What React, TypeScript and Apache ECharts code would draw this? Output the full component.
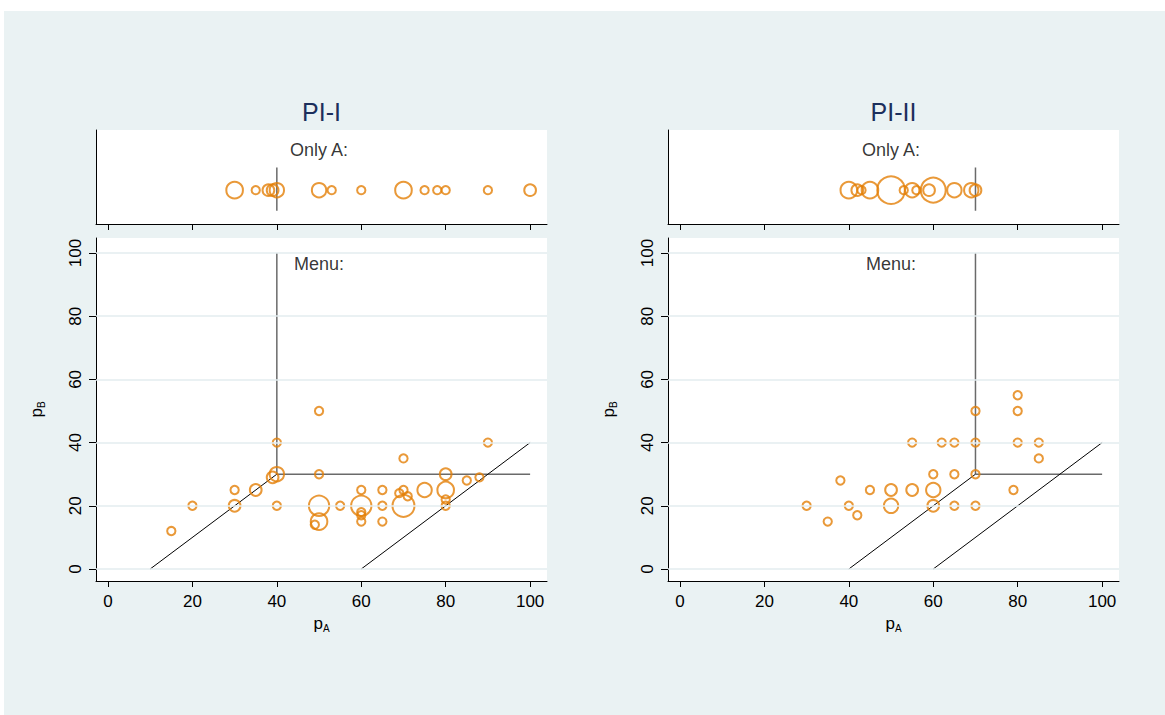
import React, { useEffect, useRef } from "react";
import * as echarts from "echarts";

// ---------- data ----------
const X_TICKS = [0, 20, 40, 60, 80, 100];
const Y_TICKS = [0, 20, 40, 60, 80, 100];
const PANEL_TITLES = ["PI-I", "PI-II"];
const STRIP_LABEL = "Only A:";
const MENU_LABEL = "Menu:";

// [pA, pB, count]
const pi1Menu = [
  [15, 12, 1], [20, 20, 1], [30, 25, 1], [30, 20, 2], [35, 25, 2], [39, 29, 2], [40, 30, 3],
  [40, 40, 1], [40, 20, 1], [50, 50, 1], [50, 30, 1], [50, 20, 6], [50, 15, 4], [49, 14, 1],
  [55, 20, 1], [60, 25, 1], [60, 20, 6], [60, 18, 1], [60, 17, 1], [60, 15, 1], [65, 25, 1],
  [65, 20, 1], [65, 15, 1], [69, 24, 1], [70, 25, 1], [71, 23, 1], [70, 35, 1], [70, 20, 7],
  [75, 25, 3], [80, 30, 2], [80, 25, 4], [80, 22, 1], [80, 20, 1], [85, 28, 1], [88, 29, 1],
  [90, 40, 1],
];
// [pA, count]
const pi1OnlyA = [
  [30, 4], [35, 1], [38, 2], [39, 2], [40, 3], [50, 3], [53, 1], [60, 1], [70, 4], [75, 1],
  [78, 1], [80, 1], [90, 1], [100, 2],
];
const pi2Menu = [
  [30, 20, 1], [35, 15, 1], [38, 28, 1], [40, 20, 1], [42, 17, 1], [45, 25, 1], [50, 25, 2],
  [50, 20, 3], [55, 40, 1], [55, 25, 2], [60, 30, 1], [60, 25, 3], [60, 20, 2], [62, 40, 1],
  [65, 40, 1], [65, 30, 1], [65, 20, 1], [70, 50, 1], [70, 40, 1], [70, 30, 1], [70, 20, 1],
  [79, 25, 1], [80, 55, 1], [80, 50, 1], [80, 40, 1], [85, 40, 1], [85, 35, 1],
];
const pi2OnlyA = [
  [40, 4], [42, 2], [43, 1], [45, 4], [50, 11], [53, 1], [55, 3], [56, 1], [59, 2], [60, 9],
  [65, 3], [69, 3], [70, 2],
];

// reference lines
const pi1Vertical = [[40, 30], [40, 100]];
const pi1Horizontal = [[40, 30], [100, 30]];
const pi1DiagA = [[10, 0], [40, 30]];
const pi1DiagB = [[60, 0], [100, 40]];
const pi1StripMark = 40;
const pi2Vertical = [[70, 30], [70, 100]];
const pi2Horizontal = [[70, 30], [100, 30]];
const pi2DiagA = [[40, 0], [70, 30]];
const pi2DiagB = [[60, 0], [100, 40]];
const pi2StripMark = 70;

// ---------- layout / style ----------
const X_MIN = -2.84;
const X_MAX = 104;
const Y_MIN = -3.8;
const Y_MAX = 104.75;
const STRIP_MIN = 0;
const STRIP_MAX = 10;
const STRIP_ROW = 3.6;
const STRIP_LABEL_Y = 7.9;
const STRIP_LINE = [1.4, 6.0];
const MENU_POS = [50, 96.5];
const STRIP_LABEL_X = 50;

const ORANGE = "#e47f08";
const BG = "#eaf2f3";
const GRIDC = "#e3ecef";
const FONT = "Liberation Sans, Arial, sans-serif";
const SIZE_K = 8.3;

const PANEL_LEFT = [96, 668];
const PANEL_W = 451;

export default function App() {
  const ref = useRef<HTMLDivElement>(null);
  useEffect(() => {
    if (!ref.current) return;
    const chart = echarts.init(ref.current, null, { renderer: "svg" });

    const grids: any[] = [];
    const xAxes: any[] = [];
    const yAxes: any[] = [];
    const series: any[] = [];

    const nameRich = {
      p: { fontSize: 17, fontFamily: FONT, color: "#000", lineHeight: 20 },
      s: { fontSize: 10, fontFamily: FONT, color: "#000", verticalAlign: "bottom", lineHeight: 14 },
    };

    const panels = [
      { menu: pi1Menu, only: pi1OnlyA, v: pi1Vertical, h: pi1Horizontal, dA: pi1DiagA, dB: pi1DiagB, mark: pi1StripMark },
      { menu: pi2Menu, only: pi2OnlyA, v: pi2Vertical, h: pi2Horizontal, dA: pi2DiagA, dB: pi2DiagB, mark: pi2StripMark },
    ];

    panels.forEach((p, i) => {
      const left = PANEL_LEFT[i];
      const gs = i * 2; // strip grid index
      const gm = i * 2 + 1; // main grid index
      grids.push({ left, top: 130, width: PANEL_W, height: 94, show: true, backgroundColor: "#fff", borderWidth: 0 });
      grids.push({ left, top: 238, width: PANEL_W, height: 343, show: true, backgroundColor: "#fff", borderWidth: 0 });

      // strip axes
      xAxes.push({
        type: "value", gridIndex: gs, min: X_MIN, max: X_MAX,
        axisLine: { show: true, onZero: false, lineStyle: { color: "#000", width: 1 } },
        axisTick: { show: true, customValues: X_TICKS, length: 6, lineStyle: { color: "#000" } },
        axisLabel: { show: false },
        splitLine: { show: false },
      });
      yAxes.push({
        type: "value", gridIndex: gs, min: STRIP_MIN, max: STRIP_MAX,
        axisLine: { show: true, onZero: false, lineStyle: { color: "#000", width: 1 } },
        axisTick: { show: false }, axisLabel: { show: false }, splitLine: { show: false },
      });
      // main axes
      xAxes.push({
        type: "value", gridIndex: gm, min: X_MIN, max: X_MAX,
        axisLine: { show: true, onZero: false, lineStyle: { color: "#000", width: 1 } },
        axisTick: { show: true, customValues: X_TICKS, length: 6, lineStyle: { color: "#000" } },
        axisLabel: { show: true, customValues: X_TICKS, fontSize: 17, color: "#000", margin: 12, fontFamily: FONT },
        splitLine: { show: false },
        name: "{p|p}{s|A}", nameLocation: "middle", nameGap: 32,
        nameTextStyle: { rich: nameRich },
      });
      yAxes.push({
        type: "value", gridIndex: gm, min: Y_MIN, max: Y_MAX,
        axisLine: { show: true, onZero: false, lineStyle: { color: "#000", width: 1 } },
        axisTick: { show: true, customValues: Y_TICKS, length: 7, lineStyle: { color: "#000" } },
        axisLabel: { show: true, customValues: Y_TICKS, fontSize: 17, color: "#000", margin: 12, rotate: 90, fontFamily: FONT },
        splitLine: { show: false },
        name: "{p|p}{s|B}", nameLocation: "middle", nameRotate: 90, nameGap: 50,
        nameTextStyle: { rich: nameRich },
      });

      // gridlines in main panel
      series.push({
        type: "line", xAxisIndex: gm, yAxisIndex: gm, data: [], silent: true, z: 1,
        markLine: {
          silent: true, symbol: "none", label: { show: false },
          lineStyle: { color: GRIDC, width: 1.5, type: "solid" },
          data: Y_TICKS.map((v) => ({ yAxis: v })),
        },
      });

      const refLine = (data: number[][], xi: number, color: string, width: number) => ({
        type: "line", xAxisIndex: xi, yAxisIndex: xi, data, symbol: "none", silent: true, z: 2,
        lineStyle: { color, width }, animation: false,
      });
      series.push(refLine(p.v, gm, "#6a6a6a", 1.5));
      series.push(refLine(p.h, gm, "#6a6a6a", 1.5));
      series.push(refLine(p.dA, gm, "#000", 1));
      series.push(refLine(p.dB, gm, "#000", 1));
      series.push(refLine([[p.mark, STRIP_LINE[0]], [p.mark, STRIP_LINE[1]]], gs, "#6a6a6a", 1.5));

      // scatter main
      series.push({
        type: "scatter", xAxisIndex: gm, yAxisIndex: gm, z: 3,
        data: p.menu,
        symbol: "circle",
        symbolSize: (v: number[]) => SIZE_K * Math.sqrt(v[2]),
        itemStyle: { color: "transparent", borderColor: ORANGE, borderWidth: 2 },
      });
      // scatter strip
      series.push({
        type: "scatter", xAxisIndex: gs, yAxisIndex: gs, z: 3,
        data: p.only.map((d) => [d[0], STRIP_ROW, d[1]]),
        symbol: "circle",
        symbolSize: (v: number[]) => SIZE_K * Math.sqrt(v[2]),
        itemStyle: { color: "transparent", borderColor: ORANGE, borderWidth: 2 },
      });
      // text labels
      const textSeries = (xi: number, pos: number[], text: string) => ({
        type: "scatter", xAxisIndex: xi, yAxisIndex: xi, z: 4, silent: true,
        data: [pos], symbolSize: 1,
        itemStyle: { color: "transparent" },
        label: { show: true, position: "inside", formatter: text, fontSize: 18, color: "#000", fontFamily: FONT },
      });
      series.push(textSeries(gs, [STRIP_LABEL_X, STRIP_LABEL_Y], STRIP_LABEL));
      series.push(textSeries(gm, MENU_POS, MENU_LABEL));
    });

    const graphic: any[] = [
      { type: "rect", shape: { x: 4, y: 11, width: 1161, height: 704 }, style: { fill: BG }, z: -10, silent: true },
    ];
    PANEL_TITLES.forEach((t, i) => {
      graphic.push({
        type: "text", x: PANEL_LEFT[i] + PANEL_W / 2, y: 112, z: 10, silent: true,
        style: { text: t, fontSize: 25, fill: "#1c2f5c", fontFamily: FONT, align: "center", verticalAlign: "middle" },
      });
    });

    chart.setOption({
      animation: false,
      backgroundColor: "#fff",
      graphic,
      grid: grids,
      xAxis: xAxes,
      yAxis: yAxes,
      series,
    });
    return () => chart.dispose();
  }, []);
  return (
    <div
      ref={ref}
      style={{ position: "fixed", left: 0, top: 0, width: 1165, height: 715 }}
    />
  );
}
